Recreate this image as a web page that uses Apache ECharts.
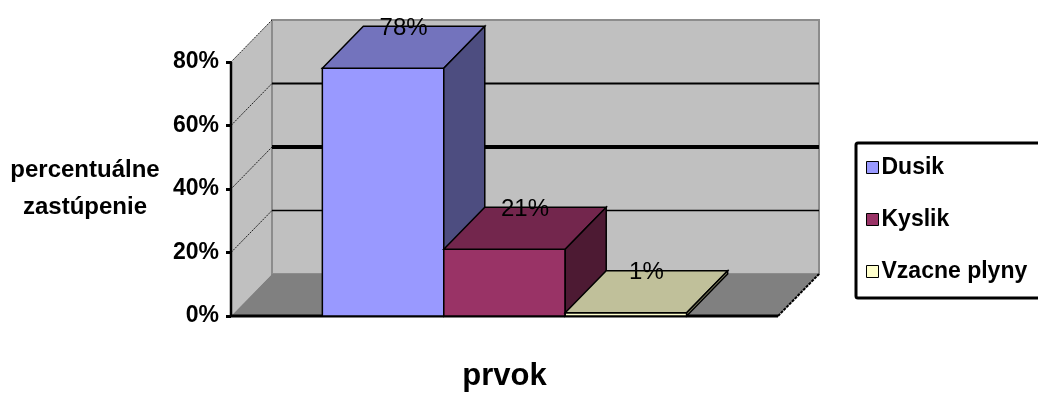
<!DOCTYPE html>
<html>
<head>
<meta charset="utf-8">
<script src="https://cdn.jsdelivr.net/npm/echarts@6/dist/echarts.min.js"></script>
<style>
  html, body {margin: 0; padding: 0; background: #fff;}
  #chart {width: 1038px; height: 394px;}
</style>
</head>
<body>
<div id="chart"></div>
<script>
// data
const categories = [''];
const seriesNames = ['Dusik', 'Kyslik', 'Vzacne plyny'];
const seriesValues = [78, 21, 1];
const yTicks = [0, 20, 40, 60, 80];

// colours of the three faces
const frontColors = ['#9999ff', '#993366', '#ffffcc'];
const topColors = ['#7373bd', '#73264d', '#c0c09a'];
const sideColors = ['#4d4d80', '#4d1a33', '#80805f'];

const DX = 41, DY = -42;
const font = "'Liberation Sans', Arial, sans-serif";

const frameItem = (params, api) => {
  const base = api.coord([0, 0]);
  const band = api.size([1, 0])[0];
  const left = base[0] - band / 2;
  const right = base[0] + band / 2;
  const y0 = base[1];
  const yTop = api.coord([0, yTicks[yTicks.length - 1]])[1];
  const children = [
    {type: 'polygon', shape: {points: [[left, y0], [left, yTop], [left + DX, yTop + DY], [left + DX, y0 + DY]]},
      style: {fill: '#c0c0c0'}},
    {type: 'polygon', shape: {points: [[left + DX, yTop + DY], [right + DX, yTop + DY], [right + DX, y0 + DY], [left + DX, y0 + DY]]},
      style: {fill: '#c0c0c0', stroke: '#8c8c8c', lineWidth: 2}},
    {type: 'polygon', shape: {points: [[left, y0], [left + DX, y0 + DY], [right + DX, y0 + DY], [right, y0]]},
      style: {fill: '#808080'}},
    {type: 'line', shape: {x1: left + DX, y1: yTop + DY, x2: left + DX, y2: y0 + DY},
      style: {stroke: '#8c8c8c', lineWidth: 2}},
  ];
  const widths = {20: 1.5, 40: 4, 60: 2};
  yTicks.forEach(v => {
    const y = api.coord([0, v])[1];
    if (v > 0) {
      children.push({type: 'line', shape: {x1: left, y1: y, x2: left + DX, y2: y + DY},
        style: {stroke: '#222', lineWidth: 1, lineDash: [2, 1]}});
    }
    if (widths[v]) {
      children.push({type: 'line', shape: {x1: left + DX, y1: y + DY, x2: right + DX, y2: y + DY},
        style: {stroke: '#000', lineWidth: widths[v]}});
    }
  });
  children.push(
    {type: 'line', shape: {x1: left, y1: yTop, x2: left, y2: y0}, style: {stroke: '#000', lineWidth: 2.5}},
    {type: 'line', shape: {x1: left, y1: y0, x2: right, y2: y0}, style: {stroke: '#000', lineWidth: 3}},
    {type: 'line', shape: {x1: right, y1: y0, x2: right + DX, y2: y0 + DY}, style: {stroke: '#000', lineWidth: 2, lineDash: [3, 1]}}
  );
  return {type: 'group', children};
};

const barItem = idx => (params, api) => {
  const v = api.value(1);
  const base = api.coord([api.value(0), 0]);
  const top = api.coord([api.value(0), v]);
  const band = api.size([1, 0])[0];
  const bw = band * 0.222;
  const x0 = base[0] - 1.5 * bw + idx * bw;
  const x1 = x0 + bw;
  const y0 = base[1], y1 = top[1];
  const edge = {stroke: '#000', lineWidth: 1.5};
  return {
    type: 'group',
    children: [
      {type: 'polygon', shape: {points: [[x0, y0], [x0, y1], [x1, y1], [x1, y0]]},
        style: Object.assign({fill: frontColors[idx]}, edge)},
      {type: 'polygon', shape: {points: [[x0, y1], [x0 + DX, y1 + DY], [x1 + DX, y1 + DY], [x1, y1]]},
        style: Object.assign({fill: topColors[idx]}, edge)},
      {type: 'polygon', shape: {points: [[x1, y1], [x1 + DX, y1 + DY], [x1 + DX, y0 + DY], [x1, y0]]},
        style: Object.assign({fill: sideColors[idx]}, edge)},
      {type: 'text', style: {
        text: v + '%', x: (x0 + x1 + DX) / 2, y: y1 + DY + 2,
        align: 'center', verticalAlign: 'middle', textAlign: 'center', textVerticalAlign: 'middle',
        fill: '#000', fontSize: 24, fontFamily: font
      }}
    ]
  };
};

const chart = echarts.init(document.getElementById('chart'));
chart.setOption({
  animation: false,
  backgroundColor: '#fff',
  grid: {left: 231, right: 260, top: 62, bottom: 78, outerBoundsMode: 'none', containLabel: false},
  legend: {
    data: seriesNames,
    orient: 'vertical',
    left: 856,
    top: 143,
    padding: [13, 40, 15, 10],
    itemGap: 29,
    itemWidth: 12,
    itemHeight: 12,
    icon: 'rect',
    borderColor: '#000',
    borderWidth: 3,
    borderRadius: 2,
    itemStyle: {borderColor: '#000', borderWidth: 1},
    textStyle: {fontSize: 23, fontWeight: 'bold', fontFamily: font, color: '#000', padding: [0, 0, 0, -2]}
  },
  xAxis: {
    type: 'category',
    data: categories,
    name: 'prvok',
    nameLocation: 'middle',
    nameGap: 60,
    nameTextStyle: {fontSize: 31, fontWeight: 'bold', fontFamily: font, color: '#000', verticalAlign: 'middle'},
    axisLine: {show: false},
    axisTick: {show: false},
    axisLabel: {show: false}
  },
  yAxis: {
    type: 'value',
    min: 0,
    max: 80,
    interval: 20,
    name: 'percentuálne\nzastúpenie',
    nameLocation: 'middle',
    nameRotate: 0,
    nameGap: 146,
    nameTextStyle: {fontSize: 24, fontWeight: 'bold', fontFamily: font, color: '#000',
      align: 'center', verticalAlign: 'middle', lineHeight: 37},
    axisLine: {show: false},
    axisTick: {show: true, length: 5, lineStyle: {color: '#000', width: 3}},
    splitLine: {show: false},
    axisLabel: {formatter: '{value}%', margin: 12, fontSize: 23, fontWeight: 'bold', fontFamily: font, color: '#000'}
  },
  series: [
    {type: 'custom', name: 'frame', z: 1, silent: true, renderItem: frameItem, data: [[0, 0]]}
  ].concat(seriesNames.map((name, i) => ({
    type: 'custom',
    name,
    z: 2 + i,
    itemStyle: {color: frontColors[i]},
    renderItem: barItem(i),
    data: [[0, seriesValues[i]]]
  })))
});
</script>
</body>
</html>
